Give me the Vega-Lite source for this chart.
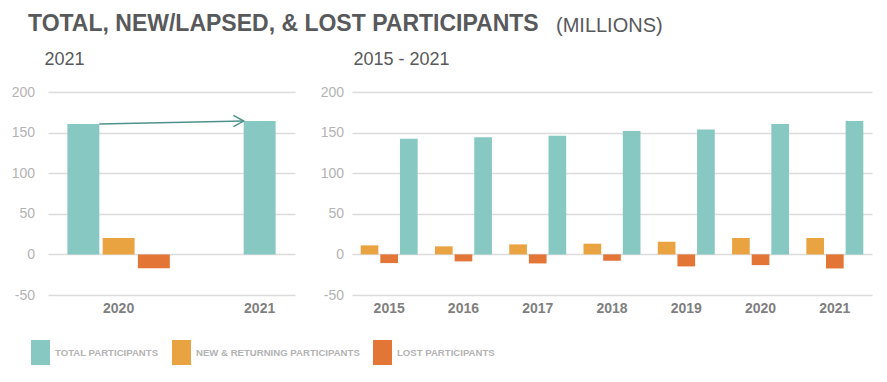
{
  "$schema": "https://vega.github.io/schema/vega-lite/v6.json",
  "background": "white",
  "padding": {"left": 11, "top": 13, "right": 5, "bottom": 5},
  "config": {
    "view": {"stroke": null},
    "font": "Liberation Sans",
    "axis": {"domain": false, "ticks": false, "labelFont": "Liberation Sans"},
    "axisX": {"grid": false, "labelFontWeight": "bold", "labelColor": "#7f7f7f", "labelFontSize": 14, "labelPadding": 6, "labelAngle": 0},
    "axisY": {"grid": true, "gridColor": "#dcdcdc", "gridWidth": 1.5, "labelColor": "#b3b3b3", "labelFontSize": 14, "labelExpr": "'' + datum.value",
      "titleAngle": 0, "titleAlign": "left", "titleBaseline": "alphabetic", "titleFontSize": 18, "titleFontWeight": "normal", "titleColor": "#58595b", "titleFont": "Liberation Sans"},
    "title": {"anchor": "start", "frame": "group", "baseline": "alphabetic", "font": "Liberation Sans", "color": "#58595b"}
  },
  "datasets": {
    "left": [
      {"bar": "2020 Total", "series": "TOTAL PARTICIPANTS", "value": 160.7},
      {"bar": "2020 New", "series": "NEW & RETURNING PARTICIPANTS", "value": 20.2},
      {"bar": "2020 Lost", "series": "LOST PARTICIPANTS", "value": -17.2},
      {"bar": "2021 Total", "series": "TOTAL PARTICIPANTS", "value": 164.2}
    ],
    "arrow": [
      {"from": "2020 Total", "to": "2021 Total", "start": 160.7, "end": 164.2}
    ],
    "right": [
      {"year": "2015", "series": "NEW & RETURNING PARTICIPANTS", "value": 11.1},
      {"year": "2015", "series": "LOST PARTICIPANTS", "value": -10.7},
      {"year": "2015", "series": "TOTAL PARTICIPANTS", "value": 142.4},
      {"year": "2016", "series": "NEW & RETURNING PARTICIPANTS", "value": 9.9},
      {"year": "2016", "series": "LOST PARTICIPANTS", "value": -8.6},
      {"year": "2016", "series": "TOTAL PARTICIPANTS", "value": 144.4},
      {"year": "2017", "series": "NEW & RETURNING PARTICIPANTS", "value": 12.3},
      {"year": "2017", "series": "LOST PARTICIPANTS", "value": -11.1},
      {"year": "2017", "series": "TOTAL PARTICIPANTS", "value": 146.1},
      {"year": "2018", "series": "NEW & RETURNING PARTICIPANTS", "value": 13.2},
      {"year": "2018", "series": "LOST PARTICIPANTS", "value": -7.8},
      {"year": "2018", "series": "TOTAL PARTICIPANTS", "value": 152.0},
      {"year": "2019", "series": "NEW & RETURNING PARTICIPANTS", "value": 15.6},
      {"year": "2019", "series": "LOST PARTICIPANTS", "value": -14.8},
      {"year": "2019", "series": "TOTAL PARTICIPANTS", "value": 153.7},
      {"year": "2020", "series": "NEW & RETURNING PARTICIPANTS", "value": 20.2},
      {"year": "2020", "series": "LOST PARTICIPANTS", "value": -13.2},
      {"year": "2020", "series": "TOTAL PARTICIPANTS", "value": 160.7},
      {"year": "2021", "series": "NEW & RETURNING PARTICIPANTS", "value": 20.2},
      {"year": "2021", "series": "LOST PARTICIPANTS", "value": -17.3},
      {"year": "2021", "series": "TOTAL PARTICIPANTS", "value": 164.2}
    ]
  },
  "bounds": "flush",
  "spacing": 57,
  "hconcat": [
    {
      "width": 247,
      "height": 203,
      "title": {"text": "TOTAL, NEW/LAPSED, & LOST PARTICIPANTS", "fontSize": 23, "fontWeight": "bold", "dx": -20, "offset": 14},
      "layer": [
        {
          "data": {"name": "left"},
          "mark": {"type": "bar"},
          "encoding": {
            "x": {"field": "bar", "type": "nominal",
              "scale": {"domain": ["2020 Total", "2020 New", "2020 Lost", "gap a", "gap b", "2021 Total"], "paddingInner": 0.094, "paddingOuter": 0.55},
              "axis": {"title": null, "labelExpr": "datum.value == '2020 New' ? '2020' : datum.value == '2021 Total' ? '2021' : ''"}},
            "y": {"field": "value", "type": "quantitative",
              "scale": {"domain": [-50, 200], "nice": false},
              "axis": {"values": [-50, 0, 50, 100, 150, 200], "title": "2021", "titleX": -4, "titleY": -28, "labelPadding": 13.5}},
            "color": {"field": "series", "type": "nominal",
              "scale": {"domain": ["TOTAL PARTICIPANTS", "NEW & RETURNING PARTICIPANTS", "LOST PARTICIPANTS"], "range": ["#88c8c2", "#e9a441", "#e37537"]},
              "legend": {"orient": "none", "legendX": -20, "legendY": 248, "direction": "horizontal", "title": null,
                "symbolType": "M-0.76,-1H0.76V1H-0.76Z", "symbolSize": 625, "symbolStrokeWidth": 0,
                "labelFont": "Liberation Sans", "labelFontWeight": "bold", "labelFontSize": 9.6, "labelColor": "#b3b3b3",
                "labelOffset": 2, "columnPadding": 10, "padding": 0, "labelLimit": 400}}
          }
        },
        {
          "data": {"name": "arrow"},
          "mark": {"type": "rule", "color": "#4d928c", "strokeWidth": 1.5},
          "encoding": {
            "x": {"field": "from", "type": "nominal", "bandPosition": 1},
            "x2": {"field": "to", "bandPosition": 0},
            "y": {"field": "start", "type": "quantitative"},
            "y2": {"field": "end"}
          }
        },
        {
          "data": {"name": "arrow"},
          "mark": {"type": "point", "shape": "M-1,-0.55L0,0L-1,0.55", "filled": false, "size": 420, "color": "#4d928c", "strokeWidth": 1.5, "opacity": 1},
          "encoding": {
            "x": {"field": "to", "type": "nominal", "bandPosition": 0},
            "y": {"field": "end", "type": "quantitative"}
          }
        }
      ]
    },
    {
      "data": {"name": "right"},
      "width": 520,
      "height": 203,
      "title": {"text": "(MILLIONS)", "fontSize": 20, "fontWeight": "normal", "dx": 204, "offset": 14},
      "mark": {"type": "bar"},
      "encoding": {
        "x": {"field": "year", "type": "nominal", "scale": {"paddingInner": 0.233, "paddingOuter": 0.117}, "axis": {"title": null}},
        "xOffset": {"field": "series", "type": "nominal", "scale": {"domain": ["NEW & RETURNING PARTICIPANTS", "LOST PARTICIPANTS", "TOTAL PARTICIPANTS"], "paddingInner": 0.1}},
        "y": {"field": "value", "type": "quantitative",
          "scale": {"domain": [-50, 200], "nice": false},
          "axis": {"values": [-50, 0, 50, 100, 150, 200], "title": "2015 - 2021", "titleX": 1, "titleY": -28, "labelPadding": 8.5}},
        "color": {"field": "series", "type": "nominal",
          "scale": {"domain": ["TOTAL PARTICIPANTS", "NEW & RETURNING PARTICIPANTS", "LOST PARTICIPANTS"], "range": ["#88c8c2", "#e9a441", "#e37537"]},
          "legend": {"orient": "none", "legendX": -20, "legendY": 248, "direction": "horizontal", "title": null,
            "symbolType": "M-0.76,-1H0.76V1H-0.76Z", "symbolSize": 625, "symbolStrokeWidth": 0,
            "labelFont": "Liberation Sans", "labelFontWeight": "bold", "labelFontSize": 9.6, "labelColor": "#b3b3b3",
            "labelOffset": 2, "columnPadding": 10, "padding": 0, "labelLimit": 400}}
      }
    }
  ]
}
